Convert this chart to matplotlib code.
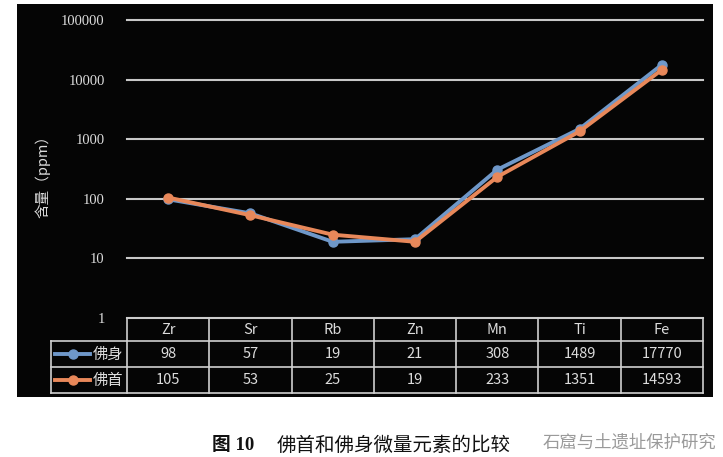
import matplotlib
matplotlib.use("Agg")
import matplotlib.pyplot as plt
from matplotlib.patches import Rectangle
from matplotlib.lines import Line2D
from matplotlib.ticker import NullLocator, FixedLocator, FixedFormatter

plt.rcParams['font.family'] = ['Noto Sans CJK SC', 'DejaVu Sans']

# ---------------- data ----------------
elements = ["Zr", "Sr", "Rb", "Zn", "Mn", "Ti", "Fe"]
body = [98, 57, 19, 21, 308, 1489, 17770]      # 佛身
head = [105, 53, 25, 19, 233, 1351, 14593]     # 佛首
series_names = ["佛身", "佛首"]
y_ticks = [1, 10, 100, 1000, 10000, 100000]
y_tick_labels = ["1", "10", "100", "1000", "10000", "100000"]
y_label = "含量（ppm）"
caption_num = "图 10"
caption_text = "佛首和佛身微量元素的比较"
watermark = "石窟与土遗址保护研究"

# ---------------- style ----------------
BLUE = "#6f98c9"
ORANGE = "#e8885a"
GRID = "#c8c8c8"
TXT = "#dcdcdc"

W, H = 723, 457
fig = plt.figure(figsize=(W / 100, H / 100), dpi=100)
fig.patch.set_facecolor("white")

def fx(px):
    return px / W

def fy(py):
    return 1 - py / H

# black panel
fig.add_artist(Rectangle((fx(17), fy(397)), fx(713) - fx(17), fy(4) - fy(397),
                         transform=fig.transFigure, facecolor="#050505",
                         edgecolor="none", zorder=0))

# ---------------- main plot ----------------
L, R, T, B = 127, 703, 20, 318
ax = fig.add_axes([fx(L), fy(B), fx(R) - fx(L), fy(T) - fy(B)])
ax.set_facecolor("none")
ax.set_yscale("log")
ax.set_ylim(1, 1e5)
ax.set_xlim(-0.5, len(elements) - 0.5)
ax.yaxis.set_major_locator(FixedLocator(y_ticks))
ax.yaxis.set_major_formatter(FixedFormatter(y_tick_labels))
ax.yaxis.set_minor_locator(NullLocator())
ax.set_xticks([])
for s in ax.spines.values():
    s.set_visible(False)
ax.tick_params(axis="y", length=0, pad=16, colors=TXT)
for lab in ax.get_yticklabels():
    lab.set_fontfamily("Liberation Serif")
    lab.set_fontsize(10.5)
ax.yaxis.grid(True, color=GRID, lw=1.5)
ax.set_axisbelow(True)
for gl in ax.get_ygridlines():
    gl.set_clip_on(False)

x = list(range(len(elements)))
ax.plot(x, body, color=BLUE, lw=2.8, marker="o", ms=6.5, zorder=3, clip_on=False)
ax.plot(x, head, color=ORANGE, lw=2.8, marker="o", ms=6.5, zorder=4, clip_on=False)

fig.text(fx(43), fy(173), y_label, rotation=90, ha="center", va="center",
         color=TXT, fontsize=10.5)

# ---------------- data table ----------------
colw = (R - L) / len(elements)
TL, TT, TB = 51, 318, 393
tax = fig.add_axes([fx(TL), fy(TB), fx(R) - fx(TL), fy(TT) - fy(TB)])
tax.set_facecolor("none")
tax.axis("off")

def dx(px):
    return -0.5 + (px - L) / colw

xleft = dx(TL)
tax.set_xlim(xleft, len(elements) - 0.5)
tax.set_ylim(TB - TT, 0)
rows = [0, 23, 49, 75]
lc = "#cfcfcf"
lw = 1.2
tax.plot([-0.5, len(elements) - 0.5], [rows[0]] * 2, color=lc, lw=lw, clip_on=False)
for r in rows[1:]:
    tax.plot([xleft, len(elements) - 0.5], [r] * 2, color=lc, lw=lw, clip_on=False)
for i in range(len(elements) + 1):
    tax.plot([-0.5 + i] * 2, [rows[0], rows[-1]], color=lc, lw=lw, clip_on=False)
tax.plot([xleft] * 2, [rows[1], rows[-1]], color=lc, lw=lw, clip_on=False)

fs_tab = 10.5
for i, el in enumerate(elements):
    tax.text(i, (rows[0] + rows[1]) / 2, el, ha="center", va="center", color=TXT, fontsize=fs_tab)
    tax.text(i, (rows[1] + rows[2]) / 2, str(body[i]), ha="center", va="center", color=TXT, fontsize=fs_tab)
    tax.text(i, (rows[2] + rows[3]) / 2, str(head[i]), ha="center", va="center", color=TXT, fontsize=fs_tab)

for k, (name, col) in enumerate(zip(series_names, [BLUE, ORANGE])):
    yc = (rows[k + 1] + rows[k + 2]) / 2
    tax.add_line(Line2D([dx(55), dx(90)], [yc, yc], color=col, lw=2.8))
    tax.add_line(Line2D([dx(72.5)], [yc], color=col, marker="o", ms=6.5))
    tax.text(dx(108), yc, name, ha="center", va="center", color=TXT, fontsize=11)

# ---------------- caption ----------------
fig.text(fx(212), fy(445), caption_num, ha="left", va="center", color="#111111",
         fontsize=13.5, fontweight="bold", family=["Liberation Serif", "Noto Sans CJK SC"])
fig.text(fx(277), fy(445), caption_text, ha="left", va="center", color="#111111",
         fontsize=14)
fig.text(fx(543), fy(443), watermark, ha="left", va="center", color="#9a9a9a",
         fontsize=12.5)

fig.savefig("out.png", dpi=100, facecolor="white")
